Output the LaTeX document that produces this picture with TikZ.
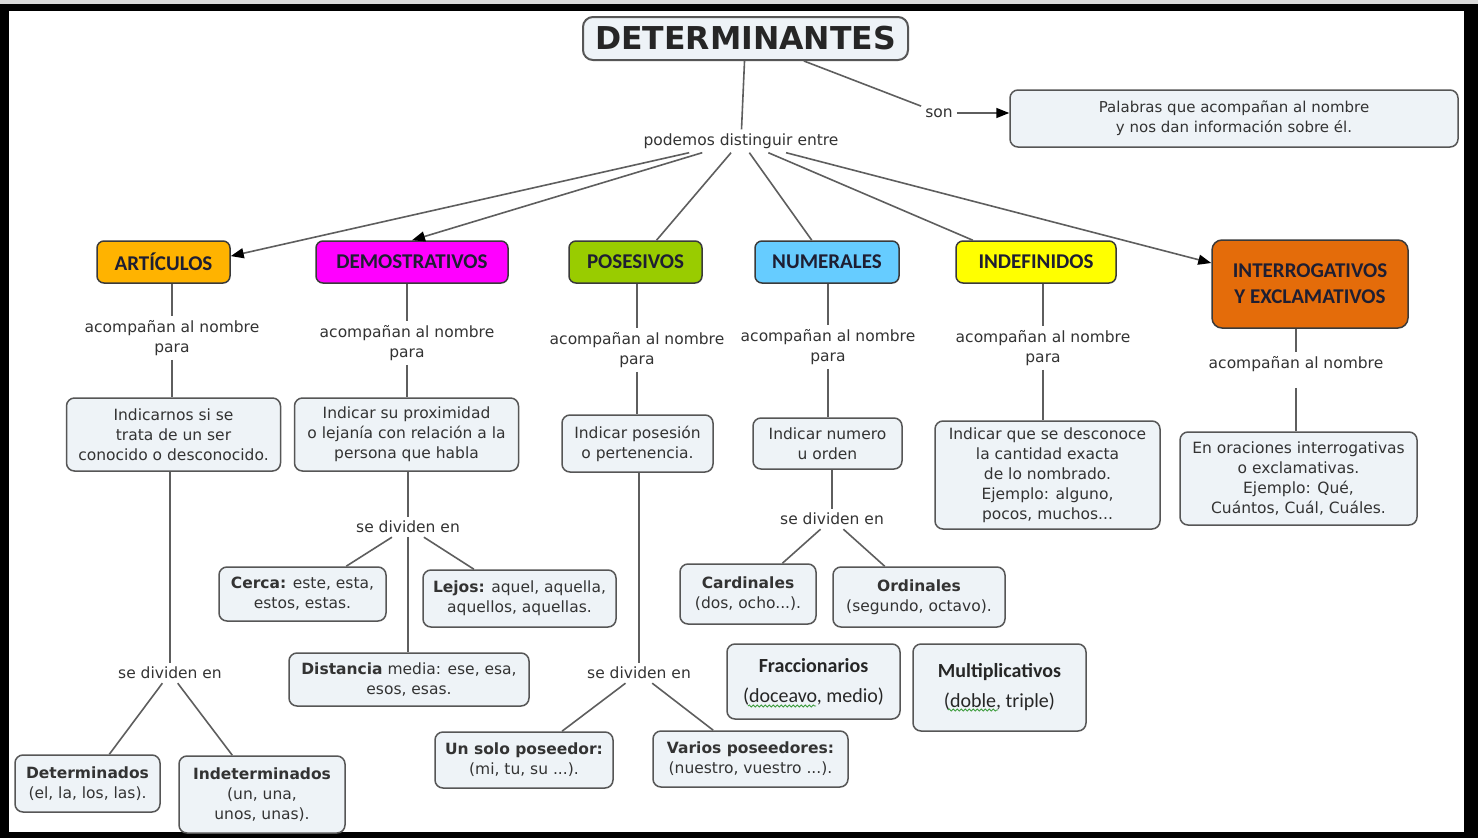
\documentclass[tikz,border=0pt]{standalone}
\usepackage{fontspec}
\setmainfont{DejaVu Sans}
\newfontfamily\carl{Carlito}
\usetikzlibrary{arrows.meta,decorations.pathmorphing}
\definecolor{boxf}{HTML}{EEF3F7}
\definecolor{boxd}{HTML}{565656}
\definecolor{linec}{HTML}{5E5E5E}
\definecolor{txt}{HTML}{333333}
\definecolor{catt}{HTML}{1E1E32}
\definecolor{catd}{HTML}{3A3A3A}
\definecolor{cart}{HTML}{FFB300}
\definecolor{cdem}{HTML}{FF00FF}
\definecolor{cpos}{HTML}{99CC00}
\definecolor{cnum}{HTML}{66CCFF}
\definecolor{cind}{HTML}{FFFF00}
\definecolor{cint}{HTML}{E46C0A}
\definecolor{spell}{HTML}{3A9A3A}
\begin{document}
\begin{tikzpicture}[x=1pt,y=-1pt,
  link/.style={draw=linec,line width=1.6pt},
  arr/.style={link,-{Triangle[length=13pt,width=10pt,color=black]}},
  box/.style={draw=boxd,fill=boxf,line width=1.5pt,rounded corners=8pt,align=center,text=txt,font=\fontsize{15.5}{20}\selectfont,inner sep=2pt},
  cat/.style={draw=catd,line width=1.5pt,rounded corners=7pt,align=center,text=catt,font=\carl\bfseries\fontsize{21}{26}\selectfont,inner sep=2pt},
  lbl/.style={align=center,text=txt,font=\fontsize{15.5}{20}\selectfont,inner sep=4pt},
  cbox/.style={box,font=\carl\fontsize{20}{30}\selectfont,text=black!85},
  sz/.style 2 args={minimum width=#1,minimum height=#2},
  wavy/.style={draw=spell,line width=0.8pt,decorate,decoration={snake,amplitude=1.1pt,segment length=4pt}}
]
\useasboundingbox (0,0) rectangle (1478,838);
\fill[black!15] (0,0) rectangle (1478,4);
\fill[black] (0,4) rectangle (1478,838);
\fill[white] (9,11) rectangle (1464,832);

% top
\node[box,sz={325pt}{43pt},font=\bfseries\fontsize{31.5}{36}\selectfont,text=black!85,line width=2pt,rounded corners=10pt] (det) at (745.5,38.5) {DETERMINANTES};
\node[box,sz={448pt}{57pt},font=\fontsize{15}{20}\selectfont] (pal) at (1234,118.5) {Palabras que acompañan al nombre\\y nos dan información sobre él.};
\node[lbl] (son) at (939,113) {son};
\node[lbl] (pod) at (741,141) {podemos distinguir entre};

% categories
\node[cat,fill=cart,sz={133pt}{42pt}] (art) at (163.5,262) {ARTÍCULOS};
\node[cat,fill=cdem,sz={192pt}{42pt}] (dem) at (412,262) {DEMOSTRATIVOS};
\node[cat,fill=cpos,sz={133pt}{42pt}] (pos) at (635.5,262) {POSESIVOS};
\node[cat,fill=cnum,sz={144pt}{42pt}] (num) at (827,262) {NUMERALES};
\node[cat,fill=cind,sz={160pt}{42pt}] (ind) at (1036,262) {INDEFINIDOS};
\node[cat,fill=cint,sz={196pt}{88pt},rounded corners=10pt] (int) at (1310,284) {INTERROGATIVOS\\Y EXCLAMATIVOS};

% linking phrases
\node[lbl] (a1) at (172,338) {acompañan al nombre\\para};
\node[lbl] (a2) at (407,343) {acompañan al nombre\\para};
\node[lbl] (a3) at (637,350) {acompañan al nombre\\para};
\node[lbl] (a4) at (828,347) {acompañan al nombre\\para};
\node[lbl] (a5) at (1043,348) {acompañan al nombre\\para};
\node[lbl] (a6) at (1296,364) {acompañan al nombre};

% level 3 boxes
\node[box,sz={214pt}{73pt}] (t1) at (173.5,434.5) {Indicarnos si se\\trata de un ser\\conocido o desconocido.};
\node[box,sz={224pt}{73pt}] (t2) at (406.5,434.5) {Indicar su proximidad\\o lejanía con relación a la\\persona que habla};
\node[box,sz={151pt}{57pt}] (t3) at (637.5,443.5) {Indicar posesión\\o pertenencia.};
\node[box,sz={149pt}{51pt}] (t4) at (827.5,443.5) {Indicar numero\\u orden};
\node[box,sz={225pt}{108pt}] (t5) at (1047.5,475) {Indicar que se desconoce\\la cantidad exacta\\de lo nombrado.\\Ejemplo: alguno,\\pocos, muchos...};
\node[box,sz={237pt}{93pt}] (t6) at (1298.5,478.5) {En oraciones interrogativas\\o exclamativas.\\Ejemplo: Qué,\\Cuántos, Cuál, Cuáles.};

% se dividen en
\node[lbl] (s1) at (170,673) {se dividen en};
\node[lbl] (s2) at (408,527) {se dividen en};
\node[lbl] (s3) at (639,673) {se dividen en};
\node[lbl] (s4) at (832,519) {se dividen en};

% leaves
\node[box,sz={145pt}{57pt}] (dete) at (87.5,783.5) {\textbf{Determinados}\\(el, la, los, las).};
\node[box,sz={166pt}{77pt}] (indete) at (262,794.5) {\textbf{Indeterminados}\\(un, una,\\unos, unas).};
\node[box,sz={167pt}{54pt}] (cerca) at (302.5,594) {\textbf{Cerca:} este, esta,\\estos, estas.};
\node[box,sz={193pt}{57pt}] (lejos) at (519.5,598.5) {\textbf{Lejos:} aquel, aquella,\\aquellos, aquellas.};
\node[box,sz={240pt}{53pt}] (dist) at (409,679.5) {\textbf{Distancia} media: ese, esa,\\esos, esas.};
\node[box,sz={178pt}{56pt}] (uno) at (524,760) {\textbf{Un solo poseedor:}\\(mi, tu, su ...).};
\node[box,sz={195pt}{56pt}] (varios) at (750.5,759) {\textbf{Varios poseedores:}\\(nuestro, vuestro ...).};
\node[box,sz={136pt}{60pt}] (card) at (748,594) {\textbf{Cardinales}\\(dos, ocho...).};
\node[box,sz={172pt}{60pt}] (ord) at (919,597) {\textbf{Ordinales}\\(segundo, octavo).};
\node[cbox,sz={173pt}{75pt}] (frac) at (813.5,681.5) {\textbf{Fraccionarios}\\(doceavo, medio)};
\node[cbox,sz={173pt}{87pt}] (mult) at (999.5,687.5) {\textbf{Multiplicativos}\\(doble, triple)};

% connectors
\draw[link] (det) -- (pod);
\draw[link] (det) -- (son);
\draw[arr] (son) -- (son -| pal.west);
\draw[arr] (pod) -- (art.5);
\draw[arr] (pod) -- (dem.north);
\draw[link] (pod) -- (pos.46);
\draw[link] (pod) -- (num.125);
\draw[link] (pod) -- (ind.161);
\draw[arr] (pod) -- (int.168);

\draw[link] (art.south -| a1) -- (a1);
\draw[link] (a1) -- (a1 |- t1.north);
\draw[link] (t1.south -| s1) -- (s1);
\draw[link] (s1) -- (dete);
\draw[link] (s1) -- (indete);

\draw[link] (dem.south -| a2) -- (a2);
\draw[link] (a2) -- (a2 |- t2.north);
\draw[link] (t2.south -| s2) -- (s2);
\draw[link] (s2) -- (cerca);
\draw[link] (s2) -- (lejos);
\draw[link] (s2) -- (s2 |- dist.north);

\draw[link] (pos.south -| a3) -- (a3);
\draw[link] (a3) -- (a3 |- t3.north);
\draw[link] (t3.south -| s3) -- (s3);
\draw[link] (s3) -- (uno);
\draw[link] (s3) -- (varios);

\draw[link] (num.south -| a4) -- (a4);
\draw[link] (a4) -- (a4 |- t4.north);
\draw[link] (t4.south -| s4) -- (s4);
\draw[link] (s4) -- (card);
\draw[link] (s4) -- (ord);

\draw[link] (ind.south -| a5) -- (a5);
\draw[link] (a5) -- (a5 |- t5.north);

\draw[link] (int.south -| a6) -- (a6);
\draw[link,shorten <=12pt] (a6) -- (a6 |- t6.north);

% spell-check underlines
\draw[wavy] (748,706) -- (816,706);
\draw[wavy] (948,710) -- (998,710);
\end{tikzpicture}
\end{document}
